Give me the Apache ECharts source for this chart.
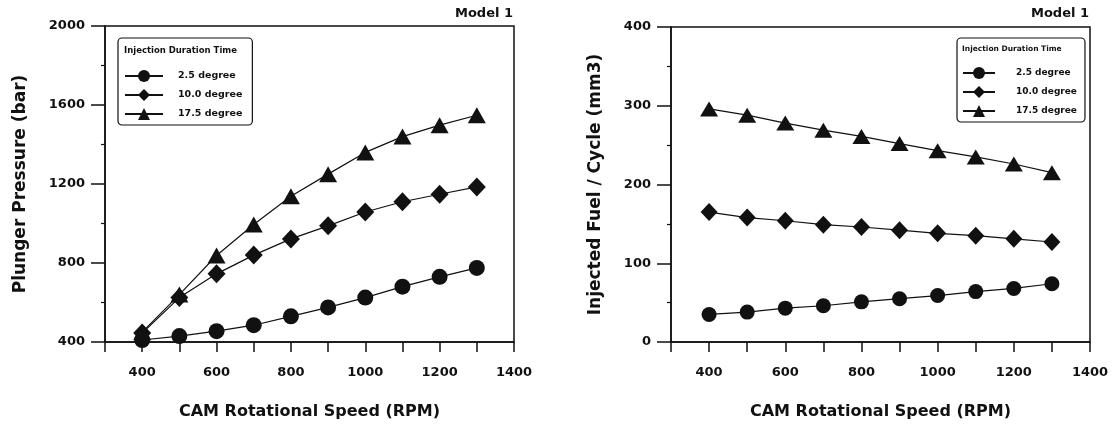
<!DOCTYPE html>
<html><head><meta charset="utf-8">
<script src="https://cdn.jsdelivr.net/npm/echarts@6/dist/echarts.min.js"></script>
<style>html,body{margin:0;padding:0;background:#fff}#c{width:1117px;height:425px}</style>
</head><body><div id="c"></div>
<script>
const rpm = [400, 500, 600, 700, 800, 900, 1000, 1100, 1200, 1300];
const seriesNames = ['2.5 degree', '10.0 degree', '17.5 degree'];
// Left: Plunger Pressure (bar)
const pressure25 = [410, 430, 455, 485, 530, 575, 625, 680, 730, 775];
const pressure100 = [445, 625, 745, 840, 922, 988, 1058, 1110, 1148, 1185];
const pressure175 = [450, 640, 838, 995, 1138, 1250, 1360, 1440, 1498, 1548];
// Right: Injected Fuel / Cycle (mm3)
const fuel25 = [35, 38, 43, 46, 51, 55, 59, 64, 68, 74];
const fuel100 = [165, 158, 154, 149, 146, 142, 138, 135, 131, 127];
const fuel175 = [296, 288, 278, 269, 261, 252, 243, 235, 226, 215];
const legendTitle = 'Injection Duration Time';
const modelLabel = 'Model 1';

const FONT = 'DejaVu Sans';
const INK = '#111';
const symbols = ['circle', 'diamond', 'triangle'];
const symSizesL = [16, [18, 19], [18, 16]];
const symSizesR = [15, [17, 18], [18, 15]];

function pairs(ys) { return rpm.map((x, i) => [x, ys[i]]); }

function xAxis(gi) {
  return {
    type: 'value', gridIndex: gi, min: 300, max: 1400, interval: 100,
    name: 'CAM Rotational Speed (RPM)', nameLocation: 'middle', nameGap: 62,
    nameTextStyle: { fontFamily: FONT, fontWeight: 'bold', fontSize: 16, color: INK },
    axisLine: { lineStyle: { color: INK, width: 1.5 } },
    axisTick: { show: true, inside: false, length: 10, lineStyle: { color: INK, width: 1.5 } },
    axisLabel: { fontFamily: FONT, fontWeight: 'bold', fontSize: 13, color: INK, margin: 24,
      formatter: v => (v % 200 === 0 && v >= 400) ? String(v) : '' },
    splitLine: { show: false }
  };
}
function yAxis(gi, min, max, interval, name, gap) {
  return {
    type: 'value', gridIndex: gi, min, max, interval,
    name, nameLocation: 'middle', nameGap: gap,
    nameTextStyle: { fontFamily: FONT, fontWeight: 'bold', fontSize: 17, color: INK },
    axisLine: { show: true, lineStyle: { color: INK, width: 1.5 } },
    axisTick: { show: true, inside: false, length: 14, lineStyle: { color: INK, width: 1.5 } },
    minorTick: { show: true, splitNumber: 2, length: 4, lineStyle: { color: INK, width: 1.2 } },
    axisLabel: { fontFamily: FONT, fontWeight: 'bold', fontSize: 13, color: INK, margin: 20,
      formatter: v => String(v) },
    splitLine: { show: false }
  };
}
function mkSeries(gi, arrs, sizes) {
  return arrs.map((ys, i) => ({
    type: 'line', name: seriesNames[i], xAxisIndex: gi, yAxisIndex: gi,
    data: pairs(ys), symbol: symbols[i], symbolSize: sizes[i],
    itemStyle: { color: INK }, lineStyle: { color: INK, width: 1.2 },
    animation: false
  }));
}
function legend(left, top, padding, gap, iw, ih, textPad, fs) {
  return {
    orient: 'vertical', left, top, padding, itemGap: gap, itemWidth: iw, itemHeight: ih,
    selectedMode: false, borderColor: INK, borderWidth: 1.2, borderRadius: 4, backgroundColor: '#fff',
    data: seriesNames,
    textStyle: { fontFamily: FONT, fontWeight: 'bold', fontSize: fs, color: INK, padding: [0, 0, 0, textPad] }
  };
}

const chart = echarts.init(document.getElementById('c'), null, { renderer: 'canvas' });
chart.setOption({
  backgroundColor: '#fff',
  animation: false,
  grid: [
    { left: 105, top: 26, width: 409, height: 317, show: true, borderColor: INK, borderWidth: 1.5, containLabel: false },
    { left: 671, top: 27, width: 419, height: 316, show: true, borderColor: INK, borderWidth: 1.5, containLabel: false }
  ],
  title: [
    { text: modelLabel, right: 1117 - 513, top: 7, padding: 0, textStyle: { fontFamily: FONT, fontWeight: 'bold', fontSize: 13, color: INK } },
    { text: modelLabel, right: 1117 - 1089, top: 7, padding: 0, textStyle: { fontFamily: FONT, fontWeight: 'bold', fontSize: 13, color: INK } },
    { text: legendTitle, left: 124, top: 46, padding: 0, textStyle: { fontFamily: FONT, fontWeight: 'bold', fontSize: 8.5, color: INK } },
    { text: legendTitle, left: 962, top: 45, padding: 0, textStyle: { fontFamily: FONT, fontWeight: 'bold', fontSize: 7.5, color: INK } }
  ],
  legend: [
    legend(118, 38, [32, 10, 5, 6], 7, 38, 15, 10, 9.5),
    legend(957, 38, [29, 8, 5, 5], 7, 32, 15, 16, 9)
  ],
  xAxis: [xAxis(0), xAxis(1)],
  yAxis: [
    yAxis(0, 400, 2000, 400, 'Plunger Pressure (bar)', 76),
    yAxis(1, 0, 400, 100, 'Injected Fuel / Cycle (mm3)', 67)
  ],
  series: [
    ...mkSeries(0, [pressure25, pressure100, pressure175], symSizesL),
    ...mkSeries(1, [fuel25, fuel100, fuel175], symSizesR)
  ]
});
</script>
</body></html>
